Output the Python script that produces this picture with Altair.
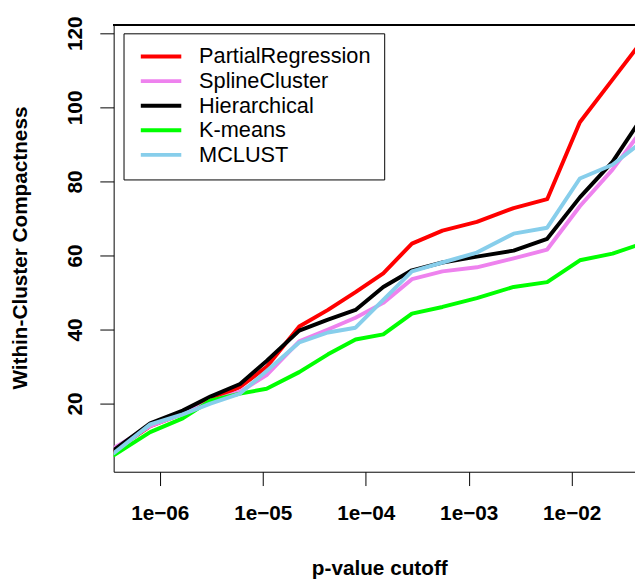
import altair as alt
import pandas as pd

# p-value cutoffs (x)
p_values = [3.6e-7, 8.07e-7, 1.67e-6, 3.10e-6, 6.02e-6, 1.09e-5, 2.26e-5, 4.30e-5,
            7.96e-5, 1.48e-4, 2.81e-4, 5.56e-4, 1.20e-3, 2.73e-3, 5.78e-3, 1.20e-2,
            2.49e-2, 4.82e-2]

partial_regression = [7.2, 13.9, 17.3, 20.8, 24.5, 29.9, 40.8, 45.3, 50.1, 55.2, 63.2,
                      66.7, 69.1, 72.8, 75.2, 96.0, 107.5, 117.9]
spline_cluster = [8.0, 13.9, 17.3, 20.5, 23.2, 27.7, 36.8, 40.0, 43.2, 47.2, 53.6,
                  55.7, 56.8, 59.2, 61.6, 73.3, 83.2, 93.9]
hierarchical = [7.5, 14.7, 18.1, 21.9, 25.3, 31.5, 39.7, 42.7, 45.3, 51.5, 56.0,
                58.1, 59.7, 61.3, 64.5, 75.7, 85.3, 97.3]
kmeans = [6.1, 12.3, 16.0, 20.8, 22.7, 24.0, 28.5, 33.3, 37.3, 38.7, 44.3, 46.1,
          48.5, 51.5, 52.8, 58.7, 60.5, 63.2]
mclust = [6.7, 14.4, 17.1, 20.0, 22.7, 28.8, 36.5, 39.2, 40.5, 48.0, 55.7, 58.1,
          60.8, 65.9, 67.5, 80.8, 84.5, 90.7]

methods = ["PartialRegression", "SplineCluster", "Hierarchical", "K-means", "MCLUST"]
colors = ["#FF0000", "#EE82EE", "#000000", "#00FF00", "#87CEEB"]
series = [partial_regression, spline_cluster, hierarchical, kmeans, mclust]

x_ticks = [1e-6, 1e-5, 1e-4, 1e-3, 1e-2]
y_ticks = [20, 40, 60, 80, 100, 120]

rows = []
for m, vals in zip(methods, series):
    for i, (p, v) in enumerate(zip(p_values, vals)):
        rows.append({"method": m, "p": p, "value": v, "idx": i})
df = pd.DataFrame(rows)

FONT = "Liberation Sans"

lines = alt.Chart(df).mark_line(strokeWidth=4, clip=True, strokeJoin="round", strokeCap="round").encode(
    x=alt.X("p:Q",
            scale=alt.Scale(type="log", domain=[3.567e-7, 4.118e-2], nice=False),
            axis=alt.Axis(values=x_ticks, title="p-value cutoff",
                          labelExpr="'1e\u22120' + (-round(log(datum.value)/LN10))",
                          tickSize=14, labelPadding=34.7, labelBaseline="alphabetic",
                          labelFontSize=21, labelFontWeight="bold", labelFont=FONT,
                          labelFlush=False, labelOverlap=False, labelBound=False,
                          titleX=269, titleY=104, titleBaseline="alphabetic",
                          titleAlign="center", titleFontSize=21, titleFontWeight="bold",
                          titleFont=FONT, grid=False)),
    y=alt.Y("value:Q",
            scale=alt.Scale(domain=[1.6, 122.4], nice=False, zero=False),
            axis=alt.Axis(values=y_ticks, title="Within-Cluster Compactness",
                          tickSize=14, labelAngle=270, labelAlign="center",
                          labelBaseline="alphabetic", labelPadding=19,
                          labelFontSize=21, labelFontWeight="bold", labelFont=FONT,
                          labelFlush=False, labelOverlap=False, labelBound=False,
                          titleAngle=270, titleX=-88, titleY=226,
                          titleBaseline="alphabetic", titleAlign="center",
                          titleFontSize=21, titleFontWeight="bold", titleFont=FONT,
                          grid=False)),
    color=alt.Color("method:N",
                    scale=alt.Scale(domain=methods, range=colors),
                    sort=methods,
                    legend=alt.Legend(orient="none", legendX=10, legendY=9, title=None,
                                      symbolType="stroke", symbolSize=1681,
                                      symbolStrokeWidth=4, symbolOffset=2.5,
                                      clipHeight=21,
                                      labelOffset=16, labelFontSize=22, labelFont=FONT,
                                      labelColor="black", rowPadding=1.9, labelLimit=400)),
    order=alt.Order("idx:Q"),
)

top_border = alt.Chart(df).mark_rule(color="black", strokeWidth=1).encode(
    y=alt.value(0.5), x=alt.value(0), x2=alt.value(528)
)

chart = alt.layer(lines, top_border).properties(
    width=528, height=453,
    autosize=alt.AutoSizeParams(type="none"),
    padding={"left": 107, "top": 13, "right": 0, "bottom": 105},
).configure_view(stroke=None).configure_axis(
    domainColor="black", domainWidth=1, tickColor="black", tickWidth=1,
    labelColor="black", titleColor="black",
).configure_legend(
    strokeColor="black", strokeWidth=1, fillColor="white", padding=13,
)

chart.save("out.html", embed_options={"renderer": "svg", "actions": False})
